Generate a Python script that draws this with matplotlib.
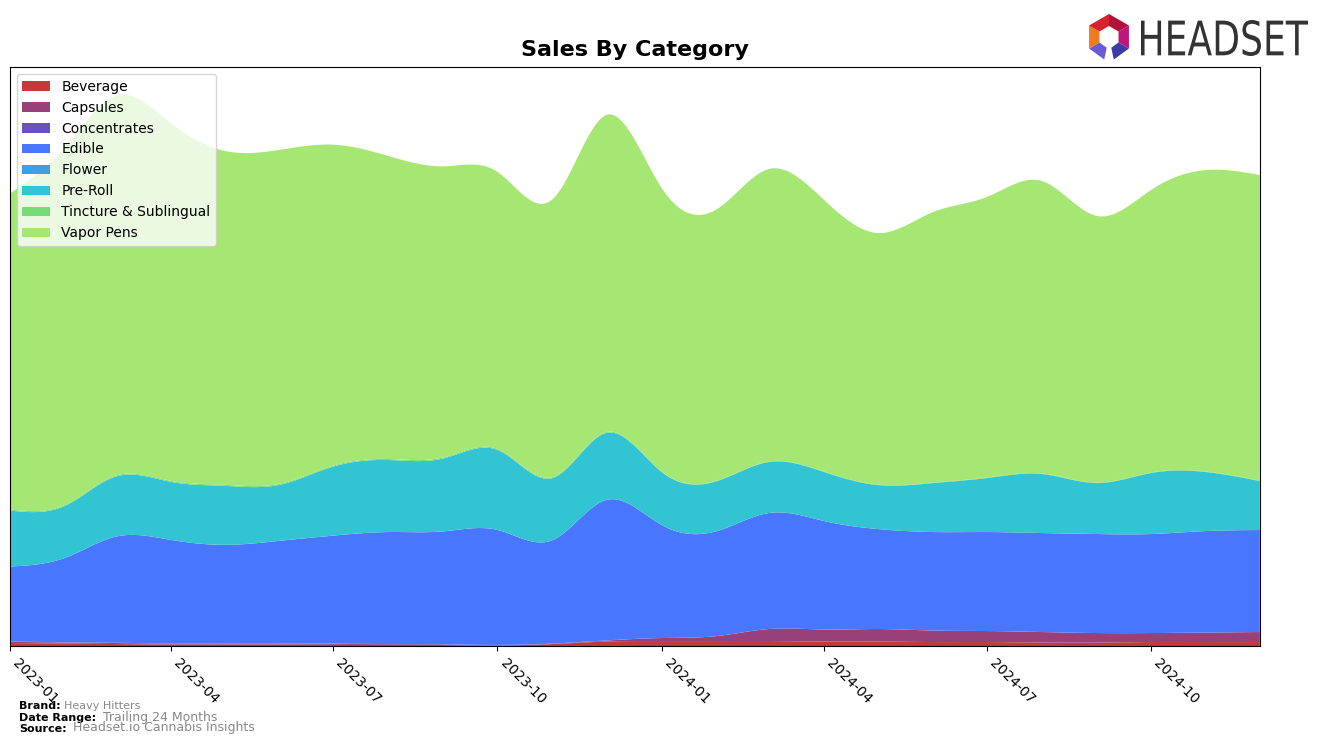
import matplotlib
matplotlib.use('Agg')
import matplotlib.pyplot as plt
import matplotlib.dates as mdates
from matplotlib.patches import Polygon, PathPatch
from matplotlib.textpath import TextPath
from matplotlib.font_manager import FontProperties
from matplotlib.transforms import Affine2D
import numpy as np
import pandas as pd

plt.rcParams['font.family'] = 'DejaVu Sans'

# ── data (monthly sales, arbitrary units) ─────────────────────────────
months = pd.date_range('2023-01-01', '2024-12-01', freq='MS')
categories = ['Beverage', 'Capsules', 'Concentrates', 'Edible', 'Flower',
              'Pre-Roll', 'Tincture & Sublingual', 'Vapor Pens']
colors = ['#C33A3A', '#98407A', '#6B4FC0', '#4876FF', '#3D9FE8',
          '#33C4D3', '#77DB78', '#A6E673']

beverage = [3, 2.5, 2, 1.5, 1.5, 1.5, 1.2, 1, 1, 0.6, 2, 4.5,
            5, 5, 5, 4.5, 4.5, 4, 4, 3.5, 3.5, 4, 4, 4]
capsules = [1.2, 1, 1, 1, 1, 1, 1, 0.8, 0.6, 0.4, 0.4, 1,
            3, 5, 12, 12, 12.5, 11.5, 11, 10.5, 9.5, 9, 9.5, 10]
concentrates = [0.3, 0.3, 0.3, 0.2, 0.2, 0.2, 0.2, 0.2, 0.1, 0.1, 0.1, 0.1,
                0, 0, 0, 0, 0, 0, 0, 0, 0, 0, 0, 0]
edible = [75, 84.5, 106, 103.5, 98.5, 102.5, 108, 112, 113, 115, 103.5, 140.5,
          113, 105, 116, 108.5, 100, 98.5, 99, 99, 99, 99, 101.5, 102]
flower = [0] * 24
pre_roll = [56, 52, 60, 58, 59, 56, 69, 72, 73, 80, 62, 67,
            53, 50, 51, 49, 44, 49, 54, 59, 51, 61, 59, 49]
tincture = [1, 1, 1, 1, 1, 1, 1, 1, 1, 1, 1, 1,
            0.5, 0.5, 0.5, 0.5, 0.5, 0.5, 0.5, 0.5, 0.5, 0.5, 0.5, 0.5]
vapor_pens = [316, 358, 380, 358, 334, 334, 321, 303, 291, 277, 278, 317,
              283.5, 271.5, 292.5, 271.5, 251.5, 270.5, 280.5, 292.5, 266.5, 282.5, 301.5, 305.5]

series = [beverage, capsules, concentrates, edible, flower, pre_roll, tincture, vapor_pens]


def natural_spline(x, y, xs):
    """Natural cubic spline through (x, y), evaluated at xs (display smoothing only)."""
    x = np.asarray(x, float)
    y = np.asarray(y, float)
    n = len(x)
    h = np.diff(x)
    A = np.zeros((n, n))
    b = np.zeros(n)
    A[0, 0] = A[-1, -1] = 1
    for i in range(1, n - 1):
        A[i, i - 1] = h[i - 1]
        A[i, i] = 2 * (h[i - 1] + h[i])
        A[i, i + 1] = h[i]
        b[i] = 6 * ((y[i + 1] - y[i]) / h[i] - (y[i] - y[i - 1]) / h[i - 1])
    m = np.linalg.solve(A, b)
    idx = np.clip(np.searchsorted(x, xs) - 1, 0, n - 2)
    t0 = xs - x[idx]
    t1 = x[idx + 1] - xs
    hi = h[idx]
    return (m[idx] * t1 ** 3 / (6 * hi) + m[idx + 1] * t0 ** 3 / (6 * hi)
            + (y[idx] / hi - m[idx] * hi / 6) * t1
            + (y[idx + 1] / hi - m[idx + 1] * hi / 6) * t0)


# ── figure ────────────────────────────────────────────────────────────
W, H = 1324, 746
fig = plt.figure(figsize=(W / 100, H / 100), dpi=100)
ax = fig.add_axes([0.00755, 0.134, 0.944, 0.776])

xnum = mdates.date2num(months.to_pydatetime())
xs = np.linspace(xnum[0], xnum[-1], 700)
smooth = [np.clip(natural_spline(xnum, s, xs), 0, None) for s in series]

ax.stackplot(xs, *smooth, labels=categories, colors=colors, linewidth=0)

totals = np.sum(series, axis=0)
ax.set_xlim(xnum[0], xnum[-1])
ax.set_ylim(0, totals.max() * 1.052)
ax.set_yticks([])
ax.xaxis_date()
ax.xaxis.set_major_locator(mdates.MonthLocator(bymonth=[1, 4, 7, 10]))
ax.xaxis.set_major_formatter(mdates.DateFormatter('%Y-%m'))
plt.setp(ax.get_xticklabels(), rotation=-45, ha='left', fontsize=10)

ax.set_title('Sales By Category', fontsize=16, fontweight='bold', pad=8)
ax.legend(loc='upper left', fontsize=10, framealpha=0.8)

# footer
fig.text(19 / W, 1 - 706 / H, 'Brand:', fontsize=8, fontweight='bold', va='center')
fig.text(64 / W, 1 - 706 / H, 'Heavy Hitters', fontsize=8, color='#888888', va='center')
fig.text(19 / W, 1 - 718 / H, 'Date Range:', fontsize=8, fontweight='bold', va='center')
fig.text(103 / W, 1 - 717 / H, 'Trailing 24 Months', fontsize=9, color='#888888', va='center')
fig.text(19 / W, 1 - 729 / H, 'Source:', fontsize=8, fontweight='bold', va='center')
fig.text(73 / W, 1 - 728 / H, 'Headset.io Cannabis Insights', fontsize=9, color='#888888', va='center')

# logo wordmark, squeezed horizontally to fit its box (pixels)
tp = TextPath((0, 0), 'HEADSET', size=50, prop=FontProperties(family='DejaVu Sans'))
ext = tp.get_extents()
bx0, bx1, by0, by1 = 1141, 1308, H - 56, H - 20
tr = (Affine2D().translate(-ext.x0, -ext.y0)
      .scale((bx1 - bx0) / ext.width, (by1 - by0) / ext.height)
      .translate(bx0, by0))
fig.patches.append(PathPatch(tp, transform=tr, facecolor='#333333', edgecolor='none'))

# logo icon
cx, cy, ro, ri = 1109, 37, 23, 11
seg_cols = ['#B0123A', '#C0157A', '#3B3BA8', '#6A5AD8', '#F07A20', '#D8202E']
angles = [90, 30, -30, -90, -150, 150, 90]
for k in range(6):
    a0, a1 = angles[k], angles[k + 1]
    if k == 2:
        a1 = -78
    if k == 3:
        a0 = -102
    pts = []
    for a, r in ((a0, ro), (a1, ro), (a1, ri), (a0, ri)):
        px = cx + r * np.cos(np.radians(a))
        py = cy - r * np.sin(np.radians(a))
        pts.append((px / W, 1 - py / H))
    fig.patches.append(Polygon(pts, closed=True, transform=fig.transFigure,
                               facecolor=seg_cols[k], edgecolor='none'))

fig.savefig('out.png', dpi=100)
